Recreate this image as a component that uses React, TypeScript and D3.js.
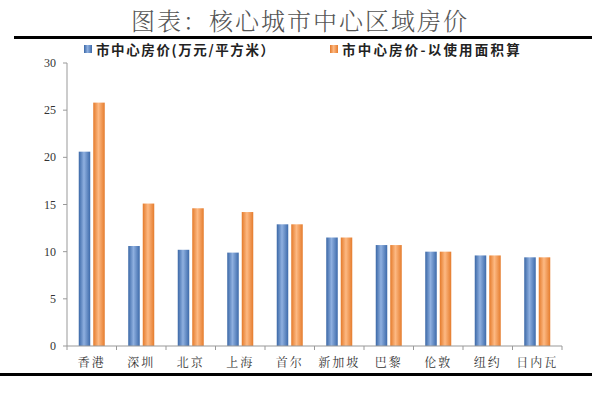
import React from "react";
import * as d3 from "d3";

const categories = ["香港", "深圳", "北京", "上海", "首尔", "新加坡", "巴黎", "伦敦", "纽约", "日内瓦"];
const priceValues = [20.6, 10.6, 10.2, 9.9, 12.9, 11.5, 10.7, 10.0, 9.6, 9.4];
const usableAreaValues = [25.8, 15.1, 14.6, 14.2, 12.9, 11.5, 10.7, 10.0, 9.6, 9.4];
const yTicks = [0, 5, 10, 15, 20, 25, 30];
const seriesNames = ["市中心房价(万元/平方米）", "市中心房价-以使用面积算"];
const title = "图表：核心城市中心区域房价";

export default function App() {
  const W = 600, H = 417;
  const x0 = 67, x1 = 562, yTop = 63, yBot = 346;
  const x = d3.scaleBand<string>().domain(categories).range([x0, x1]);
  const y = d3.scaleLinear().domain([0, 30]).range([yBot, yTop]);
  const barW = 11.5, gap = 3;
  const series = [priceValues, usableAreaValues];
  const grads = ["gBlue", "gOrange"];
  const cjk = "'Noto Sans CJK SC', sans-serif";
  const serif = "'Liberation Serif', 'DejaVu Serif', serif";
  const ser = "'Noto Serif CJK SC', 'Noto Sans CJK SC', serif";

  return (
    <div style={{ position: "absolute", left: 0, top: 0 }}>
      <svg width={W} height={H} style={{ display: "block", background: "#fff" }}>
        <defs>
          <linearGradient id="gBlue" x1="0" x2="1" y1="0" y2="0">
            <stop offset="0" stopColor="#3a67a6" />
            <stop offset="0.45" stopColor="#8fb0e0" />
            <stop offset="1" stopColor="#3d6aaa" />
          </linearGradient>
          <linearGradient id="gOrange" x1="0" x2="1" y1="0" y2="0">
            <stop offset="0" stopColor="#e47a2a" />
            <stop offset="0.45" stopColor="#fdb983" />
            <stop offset="1" stopColor="#e57c2d" />
          </linearGradient>
        </defs>
        <text x={300} y={30} textAnchor="middle" fontFamily={ser} fontSize={24} fill="#555" fontWeight={300} letterSpacing={2}>
          {title}
        </text>
        <rect x={14} y={36} width={578} height={3} fill="#000" />
        <rect x={0} y={373} width={592} height={3} fill="#000" />

        {/* legend */}
        <rect x={84} y={45} width={8} height={8} fill="url(#gBlue)" />
        <text x={96} y={55} fontFamily={cjk} fontWeight={700} fontSize={13.5} letterSpacing={1.6} fill="#222">{seriesNames[0]}</text>
        <rect x={330} y={45} width={8} height={8} fill="url(#gOrange)" />
        <text x={342} y={55} fontFamily={cjk} fontWeight={700} fontSize={13.5} letterSpacing={2.2} fill="#222">{seriesNames[1]}</text>

        {/* y axis */}
        <line x1={x0} x2={x0} y1={yTop} y2={yBot} stroke="#999" strokeWidth={1} />
        {yTicks.map((t) => (
          <g key={t}>
            <line x1={x0 - 4} x2={x0} y1={y(t)} y2={y(t)} stroke="#999" />
            <text x={x0 - 11} y={y(t) + 4} textAnchor="end" fontFamily={serif} fontSize={12} fill="#333">{t}</text>
          </g>
        ))}

        {/* bars */}
        {categories.map((c, i) => {
          const cx = (x(c) as number) + x.bandwidth() / 2;
          return (
            <g key={c}>
              {series.map((s, k) => {
                const bx = k === 0 ? cx - gap / 2 - barW : cx + gap / 2;
                return (
                  <rect key={k} x={bx} y={y(s[i])} width={barW} height={yBot - y(s[i])} fill={`url(#${grads[k]})`} />
                );
              })}
              <text x={cx} y={367} textAnchor="middle" fontFamily={ser} fontSize={12} fill="#333" letterSpacing={2}>{c}</text>
            </g>
          );
        })}

        {/* x axis */}
        <line x1={x0} x2={x1} y1={yBot} y2={yBot} stroke="#999" />
        {categories.concat([""]).map((c, i) => {
          const tx = x0 + i * x.step();
          return <line key={i} x1={tx} x2={tx} y1={yBot} y2={yBot + 4} stroke="#999" />;
        })}
      </svg>
    </div>
  );
}
